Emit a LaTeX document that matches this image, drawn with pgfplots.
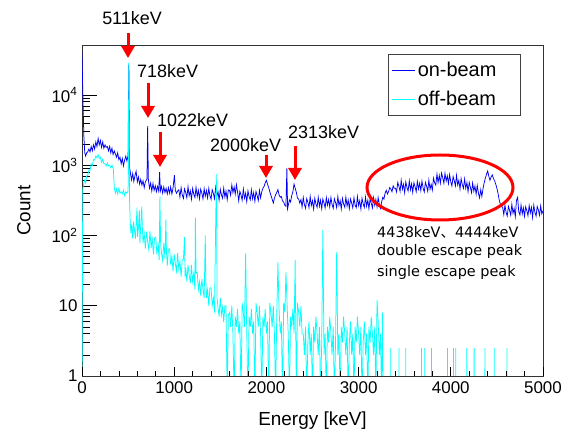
\documentclass[border=0pt]{standalone}
\usepackage{pgfplots}
\pgfplotsset{compat=1.18}
\usepackage{fontspec}
\setmainfont{Liberation Sans}
\newfontfamily\jpfont{Noto Sans CJK JP}
\newfontfamily\dejavu{DejaVu Sans}
\usetikzlibrary{arrows.meta}
\definecolor{onbeam}{RGB}{0,0,245}
\definecolor{offbeam}{RGB}{0,255,255}

\begin{document}
\begin{tikzpicture}
\useasboundingbox (0,0) rectangle (573bp,431bp);
\begin{axis}[
    name=main,
    at={(82bp,55bp)}, anchor=south west,
    scale only axis, width=461bp, height=331bp,
    xmin=0, xmax=5000,
    ymode=log, ymin=1, ymax=51500,
    xtick=\empty,
    ytick={1,10,100,1000,10000},
    yticklabels={1,10,10\textsuperscript{2},10\textsuperscript{3},10\textsuperscript{4}},
    ytick pos=left,
    tick align=inside,
    major tick length=15bp, minor tick length=8bp,
    tick style={black, line width=0.7bp},
    axis line style={black!80, line width=0.8bp},
    yticklabel style={font=\fontsize{17}{20}\selectfont, xshift=-1bp},
    ylabel={Count},
    ylabel style={font=\fontsize{19}{22}\selectfont, at={(axis description cs:-0.126,0.5)}, anchor=center},
    legend style={at={(axis description cs:0.664,0.973)}, anchor=north west,
        draw=black!75, line width=0.8bp, font=\fontsize{20}{23}\selectfont,
        inner xsep=3bp, inner ysep=6bp, row sep=9bp},
    legend cell align=left,
]
% on-beam spectrum
\addplot[sharp plot, color=onbeam, line width=0.75bp,
    legend image code/.code={\draw[onbeam, line width=1.1bp] (0bp,0bp) -- (23bp,0bp);}] coordinates {
(0,40000) (10,9000) (20,2600) (30,1500) (40,1350) (50,1500) (62,1550) (75,1700) (87,1550)
(100,1850) (112,1600) (125,1950) (137,1700) (150,2150) (162,1850) (175,2400) (187,1950)
(200,2250) (212,1800) (225,2150) (237,1750) (250,1950) (262,1800) (275,1850) (287,1600)
(300,1850) (312,1500) (325,1750) (337,1420) (350,1600) (362,1450) (375,1300) (387,1500)
(400,1200) (412,1300) (425,1050) (437,1250) (450,980) (462,1180) (475,1350) (487,1150)
(500,1380) (508,27000) (515,950) (525,780) (537,620) (550,760) (562,590) (575,720)
(587,820) (600,580) (612,680) (625,540) (637,630) (650,520) (662,600) (675,480) (687,580)
(705,640) (712,3600) (720,620) (732,470) (745,560) (757,430) (770,550) (782,440) (795,510)
(807,420) (820,500) (832,430) (842,800) (850,430) (862,500) (875,400) (887,490) (900,410)
(912,470) (925,390) (937,480) (950,400) (962,490) (975,390) (987,470) (1002,720) (1012,440)
(1025,400) (1037,430)
(1050,448) (1062,352) (1075,480) (1087,380) (1100,336) (1112,460) (1125,408) (1137,344)
(1150,496) (1162,368) (1175,432) (1187,328) (1200,468) (1212,388) (1225,348) (1237,484)
(1250,360) (1262,440) (1275,332) (1287,456) (1300,400) (1312,332) (1325,464) (1337,363)
(1350,437) (1362,343) (1375,468) (1387,371) (1400,328) (1412,449) (1425,398) (1437,335)
(1450,484) (1462,359) (1475,421) (1487,320) (1500,456) (1512,378) (1525,339) (1537,472)
(1550,351) (1562,429) (1575,324) (1587,445) (1600,440) (1612,374) (1625,524) (1637,409)
(1650,493) (1662,387) (1675,528) (1687,418) (1700,311) (1712,426) (1725,377) (1737,318)
(1750,459) (1762,340) (1775,400) (1787,303) (1800,433) (1812,359) (1825,322) (1837,448)
(1850,333) (1862,407) (1875,307) (1887,422) (1900,370) (1912,315) (1925,440) (1937,344)
(1950,420) (1962,470) (1975,500) (1987,560) (2000,610) (2012,540) (2025,480) (2037,420)
(2050,370) (2062,330) (2075,290) (2087,340) (2100,380) (2112,410) (2125,450) (2137,380)
(2150,350) (2162,360) (2175,310) (2187,300) (2200,270) (2212,260) (2222,900) (2230,240)
(2240,280) (2250,320) (2262,300) (2275,370) (2287,420) (2300,540) (2312,470) (2325,410)
(2337,340) (2350,330) (2362,290)
(2375,325) (2387,255) (2400,348) (2412,276) (2425,244) (2437,334) (2450,296) (2462,249)
(2475,360) (2487,267) (2500,313) (2512,238) (2525,339) (2537,281) (2550,252) (2562,351)
(2575,261) (2587,319) (2600,241) (2612,331) (2625,290) (2637,247) (2650,345) (2662,270)
(2675,325) (2687,255) (2700,348) (2712,276) (2725,244) (2737,334) (2750,296) (2762,249)
(2775,360) (2787,267) (2800,313) (2812,238) (2825,339) (2837,281) (2850,252) (2862,351)
(2875,261) (2887,319) (2900,241) (2912,331) (2925,290) (2937,247) (2950,345) (2962,270)
(2975,249) (2987,360) (3000,267) (3012,313) (3025,238) (3037,339) (3050,281) (3062,252)
(3075,351) (3087,261) (3100,319) (3112,241) (3125,331) (3137,290) (3150,247) (3162,345)
(3175,270) (3187,325) (3200,255) (3212,348) (3225,276) (3237,244) (3250,300)
(3262,350) (3275,330) (3287,400) (3300,440) (3312,390) (3325,420) (3337,480) (3350,460)
(3362,420) (3375,510) (3387,470)
(3400,470) (3412,416) (3425,569) (3437,505) (3450,426) (3462,614) (3475,455) (3487,535)
(3500,406) (3512,579) (3525,480) (3537,431) (3550,599) (3562,446) (3575,545) (3587,411)
(3600,564) (3612,495) (3625,421) (3637,589) (3650,460) (3662,554) (3675,436) (3687,594)
(3700,470) (3712,416) (3725,569) (3737,505) (3750,426) (3762,614) (3775,455) (3787,535)
(3800,443) (3812,655) (3825,563) (3837,522) (3850,750) (3862,567) (3875,715) (3887,556)
(3900,775) (3912,665) (3925,553) (3937,768) (3950,595) (3962,706) (3975,546) (3987,738)
(4000,580) (4012,508) (4025,690) (4037,607) (4050,507) (4062,719) (4075,524) (4087,610)
(4100,459) (4112,646) (4125,529) (4137,468) (4150,641) (4162,470) (4175,567) (4187,421)
(4200,570) (4212,490) (4225,408) (4237,559) (4250,428) (4262,504) (4275,387) (4287,516)
(4300,399) (4312,344) (4325,448) (4337,360)
(4350,470) (4362,560) (4375,660) (4387,740) (4400,830) (4412,700) (4425,610) (4437,680)
(4450,730) (4462,650) (4475,600) (4487,540) (4500,470) (4512,400) (4525,320) (4537,280)
(4550,260)
(4562,252) (4575,198) (4587,270) (4600,214) (4612,189) (4625,259) (4637,230) (4650,194)
(4662,279) (4675,207) (4687,243) (4700,185) (4712,315) (4725,350) (4737,218) (4750,196)
(4762,272) (4775,203) (4787,248) (4800,187) (4812,257) (4825,225) (4837,191) (4850,268)
(4862,209) (4875,252) (4887,180) (4900,270) (4912,214) (4925,189) (4937,259) (4950,230)
(4962,194) (4975,265) (4987,203) (5000,225)
};
\addlegendentry{\makebox[98bp][l]{on-beam}}
% off-beam spectrum
\addplot[sharp plot, color=offbeam, line width=0.75bp,
    legend image code/.code={\draw[offbeam, line width=1.3bp] (0bp,0bp) -- (23bp,0bp);}] coordinates {
(0,0.5) (8,450) (20,550) (30,620) (40,560) (50,700) (62,720) (75,860) (87,850) (100,1050)
(112,1000) (125,1200) (137,1180) (150,1350) (162,1280) (175,1420) (187,1250) (200,1300)
(212,1100) (225,1220) (237,1050) (250,1050) (262,980) (275,1080) (287,980) (300,1000)
(312,920) (325,1000) (340,880) (350,480) (362,400) (375,460) (387,390) (400,470) (412,400)
(425,420) (437,390) (450,440) (462,370) (475,420) (487,400) (500,430) (508,29000) (515,350)
(522,170) (530,108) (540,145) (550,90) (560,158) (570,117) (580,90) (590,164) (597,250)
(603,96) (612,128) (622,230) (628,77) (637,133) (648,260) (654,136) (662,78) (675,106)
(687,65) (700,113) (712,83) (725,63) (737,115) (750,67) (762,89) (775,54) (787,92)
(800,95) (812,54) (825,73) (837,45) (845,360) (853,76) (862,57) (875,44) (887,78) (900,47)
(910,170) (916,60) (925,37) (937,64) (950,65) (962,38) (975,51) (987,31) (1000,54) (1012,40)
(1025,31) (1037,56) (1050,33) (1062,43) (1075,26) (1087,45) (1100,46) (1112,95) (1118,26)
(1125,35) (1137,22) (1150,38) (1162,28) (1175,21) (1187,38) (1200,22) (1212,29) (1225,17)
(1230,180) (1237,29) (1250,30) (1262,17) (1275,22) (1287,14) (1300,24) (1312,17) (1325,13)
(1337,100) (1343,22) (1350,13) (1362,17) (1375,10) (1387,18) (1400,18) (1412,10) (1425,13)
(1437,8) (1457,750) (1465,13) (1475,9.5) (1487,7) (1500,13) (1512,7.4) (1525,9.5) (1537,5.8)
(1550,10) (1562,10) (1575,0.5) (1587,7.4)
(1600,8) (1612,5) (1625,10) (1637,4) (1650,0.5) (1662,7) (1675,5) (1687,9) (1700,4)
(1712,6) (1725,0.5) (1737,11) (1750,8) (1762,5) (1775,56) (1787,4) (1800,0.5) (1812,7)
(1825,5) (1837,9) (1850,4) (1862,6) (1875,0.5) (1887,11) (1900,8) (1912,5) (1925,10)
(1937,4) (1950,0.5) (1962,7) (1975,5) (1987,9) (2000,4) (2012,6) (2025,0.5) (2037,11)
(2050,8) (2062,5) (2075,10) (2087,4) (2100,0.5) (2112,7) (2125,42) (2137,9) (2150,4)
(2162,6) (2175,0.5) (2187,11) (2200,8) (2212,30) (2225,10) (2237,4) (2250,0.5) (2262,7)
(2275,5) (2287,9) (2300,4) (2312,45) (2325,0.5) (2337,11) (2350,8) (2362,5) (2375,10)
(2387,4)
(2400,4) (2412,2) (2425,5) (2437,0.5) (2450,3) (2462,6) (2475,2) (2487,4) (2500,0.5)
(2512,5) (2525,3) (2537,7) (2550,4) (2562,2) (2575,5) (2587,0.5) (2600,3) (2612,120)
(2625,2) (2637,4) (2650,0.5) (2662,5) (2675,3) (2687,7) (2700,4) (2712,2) (2725,5)
(2737,0.5) (2750,3) (2762,58) (2775,2) (2787,4) (2800,0.5) (2812,5) (2825,3) (2837,7)
(2850,4) (2862,2) (2875,5) (2887,0.5) (2900,3) (2912,6) (2925,2) (2937,4) (2950,0.5)
(2962,5) (2975,3) (2987,7) (3000,4) (3012,2) (3025,5) (3037,0.5) (3050,3) (3062,6)
(3075,2) (3087,4) (3100,0.5) (3112,5) (3125,3) (3137,7) (3150,4) (3162,2) (3175,5)
(3187,0.5) (3200,12) (3212,6) (3225,2) (3237,4) (3250,0.5) (3258,8) (3266,0.5)
(3347,0.5) (3348,2.5) (3349,0.5) (3437,0.5) (3438,2.5) (3439,0.5) (3510,0.5) (3511,2.5)
(3512,0.5) (3681,0.5) (3682,2.5) (3683,0.5) (3717,0.5) (3718,2.5) (3719,0.5) (3790,0.5)
(3791,2.5) (3792,0.5) (3963,0.5) (3964,2.5) (3965,0.5) (4028,0.5) (4029,2.5) (4030,0.5)
(4053,0.5) (4054,2.5) (4055,0.5) (4173,0.5) (4174,2.5) (4175,0.5) (4252,0.5) (4253,2.5)
(4254,0.5) (4369,0.5) (4370,2.5) (4371,0.5) (4470,0.5) (4471,2.5) (4472,0.5) (4608,0.5)
(4609,2.5) (4610,0.5) (5000,0.5)
};
\addlegendentry{\makebox[98bp][l]{off-beam}}
\end{axis}
\begin{axis}[
    at={(82bp,55bp)}, anchor=south west,
    scale only axis, width=461bp, height=331bp,
    xmin=0, xmax=5000, ymin=0, ymax=1,
    axis line style={draw=none},
    ytick=\empty,
    xtick={0,1000,2000,3000,4000,5000},
    xticklabels={0,1000,2000,3000,4000,5000},
    minor x tick num=4,
    xtick pos=bottom,
    tick align=inside,
    major tick length=9bp, minor tick length=5bp,
    tick style={black, line width=0.7bp},
    xticklabel style={font=\fontsize{17}{20}\selectfont, yshift=-2bp},
    xlabel={Energy [keV]},
    xlabel style={font=\fontsize{19}{22}\selectfont, at={(axis description cs:0.5,-0.135)}, anchor=center},
]
\end{axis}
% annotations
\begin{scope}[red, line width=3bp, -{Triangle[width=13bp,length=12bp]}]
\draw (128bp,398bp) -- (128bp,373bp);
\draw (148bp,348bp) -- (148bp,313bp);
\draw (160bp,299bp) -- (160bp,264bp);
\draw (266bp,276bp) -- (266bp,253bp);
\draw (295bp,285bp) -- (295bp,251bp);
\end{scope}
\begin{scope}[every node/.style={inner sep=0pt, font=\fontsize{18}{21}\selectfont}]
\node[anchor=center] at (132bp,413bp) {511keV};
\node[anchor=west] at (137bp,360bp) {718keV};
\node[anchor=west] at (157bp,311bp) {1022keV};
\node[anchor=west] at (210bp,286bp) {2000keV};
\node[anchor=west] at (288bp,299bp) {2313keV};
\end{scope}
\draw[red, line width=3bp] (440bp,243.5bp) ellipse [x radius=73bp, y radius=32.5bp];
\begin{scope}[every node/.style={inner sep=0pt, anchor=west, font=\dejavu\fontsize{14.5}{17}\selectfont}]
\node at (377bp,199bp) {4438keV{\jpfont 、}4444keV};
\node at (377bp,179bp) {double escape peak};
\node at (377bp,158bp) {single escape peak};
\end{scope}
\end{tikzpicture}
\end{document}
